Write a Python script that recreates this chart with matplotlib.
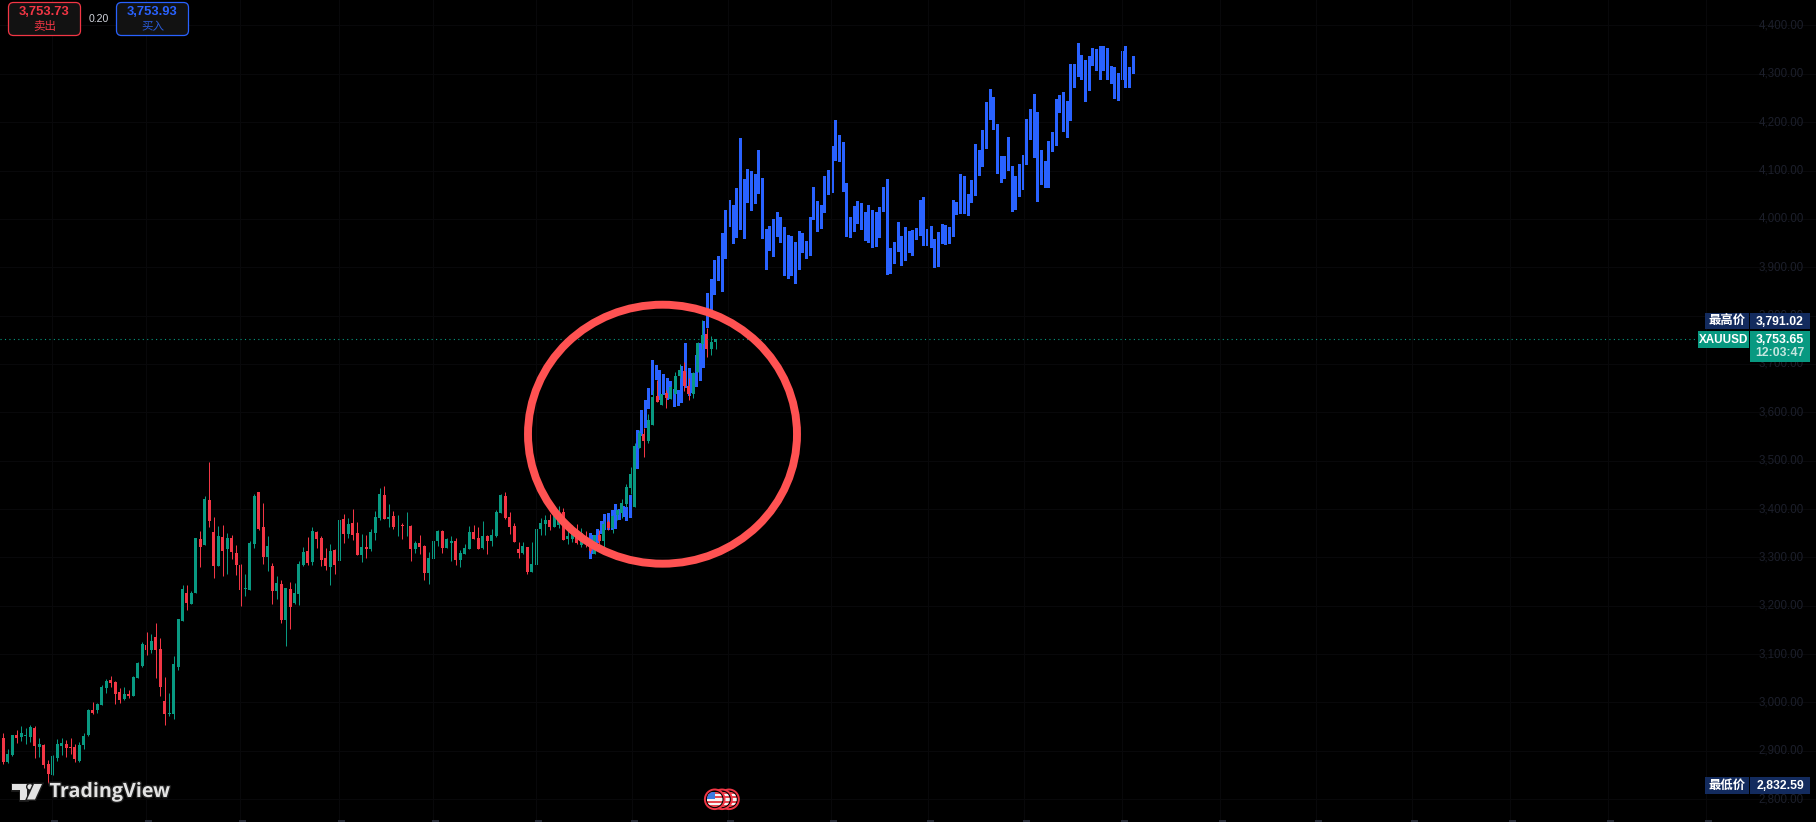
import matplotlib
matplotlib.use('Agg')
import matplotlib.pyplot as plt
from matplotlib.patches import Rectangle, FancyBboxPatch, Ellipse, Circle, Polygon
import matplotlib.patheffects as pe

# candles, oldest first
highs = [2926,2937,2904,2933,2943,2951,2947,2953,2951,2926,
         2914,2881,2891,2924,2926,2922,2926,2914,2918,2937,
         2987,3001,2999,3036,3049,3055,3044,3030,3032,3026,
         3055,3084,3125,3146,3142,3164,3133,3053,3020,3096,
         3173,3243,3243,3231,3340,3355,3427,3497,3384,3365,
         3367,3350,3346,3326,3286,3266,3334,3431,3435,3413,
         3344,3288,3262,3253,3237,3249,3247,3292,3322,3342,
         3363,3355,3344,3319,3328,3317,3380,3390,3381,3400,
         3373,3348,3346,3359,3396,3444,3448,3410,3396,3388,
         3371,3394,3367,3334,3346,3326,3311,3334,3357,3357,
         3340,3344,3340,3315,3328,3365,3367,3363,3375,3346,
         3359,3398,3431,3435,3394,3371,3332,3332,3322,3332,
         3361,3381,3388,3390,3402,3406,3402,3357,3367,3370,
         3360,3355,3339,3346,3357,3375,3377,3387,3401,3420,
         3452,3487,3536,3563,3567,3597,3646,3667,3638,3646,
         3654,3683,3700,3704,3670,3683,3745,3791,3774,3758,3751]
body_tops = [2925,2927,2894,2933,2933,2937,2933,2949,2947,2914,
             2912,2873,2889,2914,2916,2914,2908,2908,2912,2931,
             2985,2985,2997,3032,3044,3047,3042,3022,3018,3018,
             3053,3082,3121,3119,3127,3135,3111,3003,2978,3080,
             3173,3235,3226,3226,3340,3338,3421,3419,3353,3344,
             3342,3340,3340,3309,3284,3237,3330,3427,3435,3363,
             3324,3282,3247,3245,3237,3235,3226,3286,3311,3313,
             3355,3353,3340,3299,3313,3315,3377,3380,3369,3371,
             3350,3322,3322,3353,3384,3431,3429,3384,3386,3367,
             3367,3365,3365,3330,3330,3324,3299,3334,3355,3355,
             3338,3334,3334,3309,3319,3352,3352,3340,3344,3344,
             3346,3394,3429,3427,3384,3365,3317,3324,3322,3286,
             3359,3371,3377,3377,3388,3391,3394,3344,3360,3343,
             3350,3339,3326,3346,3346,3370,3373,3385,3398,3413,
             3446,3472,3530,3558,3556,3584,3632,3634,3638,3641,
             3652,3675,3688,3686,3654,3681,3743,3760,3762,3745,3751]
body_bottoms = [2896,2877,2877,2891,2927,2929,2931,2929,2910,2908,
                2871,2852,2850,2885,2910,2906,2906,2883,2879,2912,
                2933,2978,2985,2995,3030,3040,3018,3005,3007,3013,
                3013,3051,3075,3109,3109,3109,3032,2976,2976,2976,
                3073,3169,3206,3204,3226,3322,3326,3375,3282,3282,
                3313,3317,3311,3284,3233,3235,3233,3328,3359,3301,
                3301,3230,3230,3170,3170,3197,3206,3224,3284,3288,
                3291,3338,3295,3282,3280,3284,3293,3348,3348,3346,
                3305,3305,3318,3318,3350,3381,3380,3380,3363,3366,
                3365,3364,3318,3318,3322,3268,3268,3297,3334,3319,
                3319,3330,3295,3295,3307,3318,3338,3318,3320,3334,
                3334,3344,3392,3381,3363,3332,3309,3309,3270,3270,
                3284,3359,3369,3363,3363,3367,3336,3338,3339,3330,
                3326,3332,3314,3308,3334,3334,3361,3361,3388,3391,
                3410,3443,3405,3526,3541,3541,3574,3621,3615,3630,
                3628,3638,3675,3654,3638,3638,3683,3741,3731,3731,3746]
lows = [2894,2873,2875,2889,2916,2920,2914,2918,2885,2887,
        2865,2833,2850,2879,2891,2887,2893,2877,2877,2904,
        2931,2976,2978,2995,3020,3032,2997,2999,3005,3009,
        3013,3051,3073,3098,3102,3051,3013,2953,2972,2966,
        3067,3169,3191,3204,3226,3280,3326,3363,3257,3282,
        3262,3266,3297,3264,3200,3220,3233,3319,3357,3286,
        3272,3204,3214,3164,3117,3152,3204,3201,3282,3284,
        3284,3319,3282,3274,3243,3266,3293,3330,3340,3336,
        3305,3291,3299,3313,3336,3377,3380,3363,3359,3344,
        3338,3344,3293,3309,3307,3253,3245,3297,3324,3309,
        3319,3293,3284,3280,3307,3318,3338,3318,3318,3307,
        3324,3342,3392,3380,3348,3332,3299,3307,3266,3270,
        3278,3346,3346,3357,3363,3360,3336,3328,3332,3328,
        3321,3322,3310,3308,3322,3322,3357,3350,3377,3381,
        3405,3432,3405,3526,3508,3537,3574,3621,3615,3609,
        3628,3638,3670,3644,3625,3630,3683,3732,3715,3719,3731]
directions = ('GRGGRGGGRG' 'RRGGGRRRGG' 'GRGGGRRRGR' 'GGGRGRRRGG' 'GGRGGRGRRG'
              'RGRRRGGGRR' 'GRGRGRGGGR' 'GRRRGRGRGR' 'RGRGGGRGRG' 'RGRGRRGGGR'
              'GGRGGGRRGR' 'GGGRRRRGRG' 'GGGRGGRGGR' 'GRRGRGRGGG' 'GGGGRGGRGR'
              'GGGRRGGGRGG')

# the projected bars (blue), only high and low
blue_tops = [3350,3346,3359,3375,3390,3392,3398,3410,3401,3406,3404,3429,3488,3563,3605,3625,3650,
             3708,3698,3688,3679,3672,3665,3648,3646,3696,3743,3692,3681,3719,3743,3789,3846,3875,
             3915,3923,3970,4018,4039,4029,4064,4167,4083,4103,4099,4093,4143,4085,3979,3985,4000,
             4014,4004,3983,3967,3965,3952,3975,3971,3954,4004,4066,4037,4029,4089,4101,4151,4204,
             4174,4159,4074,4004,4027,4037,4033,4014,4029,4018,4014,4025,4066,4083,3940,3952,3994,
             3965,3983,3975,3977,3981,4039,4045,3979,3985,3959,3973,
             3989,3987,3983,4039,4035,4093,4089,4052,4081,4155,4143,4184,4242,4269,4252,4196,
             4130,4130,4169,4109,4089,4114,4132,4207,4227,4258,4221,4143,4120,4161,4180,
             4248,4256,4262,4244,4320,4320,4364,4339,4329,4337,4353,4351,4358,4358,4353,4316,
             4314,4302,4347,4358,4314,4337]
blue_bottoms = [3297,3308,3329,3348,3357,3357,3357,3359,3377,3384,3375,3381,3405,3483,3551,3568,3607,
                3636,3667,3625,3636,3625,3630,3611,3613,3619,3650,3634,3639,3652,3665,3692,3774,3812,
                3843,3872,3849,3917,3983,3948,3961,3977,3959,4033,4016,4031,4052,3959,3894,3934,3921,
                3963,3950,3882,3876,3882,3865,3894,3930,3917,3923,3998,3973,3979,4012,4050,4054,4120,
                4118,4056,3963,3961,3973,3990,3977,3954,3950,3940,3942,3961,4014,3884,3886,3907,3932,
                3903,3913,3930,3923,3956,3965,3944,3944,3940,3899,3901,
                3948,3946,3948,3963,4008,4010,4010,4006,4033,4047,4089,4107,4145,4205,4184,4093,
                4074,4083,4099,4014,4018,4045,4060,4112,4163,4126,4035,4070,4064,4064,4138,
                4151,4219,4180,4167,4202,4271,4293,4287,4242,4264,4316,4306,4287,4306,4287,4279,
                4248,4244,4287,4271,4271,4300]

price_ticks = [2800,2900,3000,3100,3200,3300,3400,3500,3600,3700,3800,3900,4000,4100,4200,4300,4400]
last_price = '3,753.65'
high_price = '3,791.02'
low_price = '2,832.59'
countdown = '12:03:47'
sell_price = '3,753.73'
buy_price = '3,753.93'
spread = '0.20'

GREEN = '#089981'
RED = '#f23645'
BLUE = '#2962ff'
NAVY = '#132b5e'
LATIN = ['Liberation Sans', 'Noto Sans CJK SC']
CJK = ['Noto Sans CJK SC', 'DejaVu Sans']

W, H = 1816, 822
fig = plt.figure(figsize=(W/100, H/100), dpi=100, facecolor='black')

# chart axes: one unit in x is one candle, 4.48 px wide
ax = fig.add_axes([0, 0, 1, 1], facecolor='black')
ax.set_xlim(-3.3/4.48, (W-3.3)/4.48)
ax.set_ylim(4400-796.5*2.068, 4400+25.5*2.068)
ax.axis('off')

for p in price_ticks:
    ax.axhline(p, color='#08080a', lw=0.72, zorder=0)
    ax.text((1804-3.3)/4.48, p, f'{p:,.2f}', color='#1c1f2b', fontsize=8.3, ha='right', va='center',
            family=LATIN, zorder=1)

n_blue = len(blue_tops)
blue_x = [(590.3-3.3)/4.48 + j*3.667/4.48 for j in range(n_blue)]
ax.bar(blue_x, [t-b for t, b in zip(blue_tops, blue_bottoms)], bottom=blue_bottoms,
       width=3/4.48, color=BLUE, linewidth=0, zorder=2)

xs = list(range(-1, len(highs)-1))
cols = [GREEN if d == 'G' else RED for d in directions]
ax.vlines(xs, lows, highs, colors=cols, lw=0.72, zorder=3)
ax.bar(xs, [t-b for t, b in zip(body_tops, body_bottoms)], bottom=body_bottoms,
       width=3/4.48, color=cols, linewidth=0, zorder=4)

# overlay in pixels for the labels and drawings
ov = fig.add_axes([0, 0, 1, 1], facecolor='none')
ov.set_xlim(0, W)
ov.set_ylim(H, 0)
ov.axis('off')

# time grid, date labels are cut off by the picture edge
for gx in [52,146,240,339,433,536,632,728,831,928,1024,1122,1220,1316,1412,1510,1608,1706]:
    ov.plot([gx, gx], [0, H], color='#08080a', lw=0.72, zorder=0)
    ov.add_patch(Rectangle((gx-1, 820.4), 7, 2, fc='#262a35', ec='none', zorder=0))

ov.plot([0, 1696], [339.3, 339.3], color=GREEN, lw=0.8, ls=(0, (1, 3)), zorder=1)

ov.add_patch(Ellipse((662.5, 434.2), 269, 259, fill=False, ec='#ff5252', lw=5.7, zorder=2))

# buy and sell buttons
for x0, col, price, word, tcol in [(8.5, RED, sell_price, '卖出', RED), (116.5, BLUE, buy_price, '买入', '#2a5bd8')]:
    ov.add_patch(FancyBboxPatch((x0, 2.5), 72, 33, boxstyle='round,pad=0,rounding_size=5',
                                fc='#121212', ec=col, lw=0.9, zorder=3))
    ov.text(x0+36, 12.3, price, color=col, fontsize=9.4, fontweight='bold', ha='center', va='center',
            family=LATIN, zorder=4)
    ov.text(x0+36, 26.5, word, color=tcol, fontsize=8.3, ha='center', va='center', family=CJK, zorder=4)
ov.text(99, 18.5, spread, color='#d1d4dc', fontsize=7.6, ha='center', va='center', family=LATIN, zorder=4)

# labels on the price scale
def box(x0, y0, x1, y1, col):
    ov.add_patch(Rectangle((x0, y0), x1-x0, y1-y0, fc=col, ec='none', zorder=5))

box(1705, 313.3, 1749, 329.3, NAVY)
box(1750, 313.3, 1810, 329.3, NAVY)
ov.text(1727, 321.3, '最高价', color='white', fontsize=8.9, fontweight='bold', ha='center', va='center',
        family=CJK, zorder=6)
ov.text(1804, 321.5, high_price, color='white', fontsize=8.8, fontweight='bold', ha='right', va='center',
        family=LATIN, zorder=6)
box(1698, 331, 1749, 347.7, GREEN)
box(1750, 331, 1810, 361.7, GREEN)
ov.text(1723.5, 339.6, 'XAUUSD', color='white', fontsize=8.4, fontweight='bold', ha='center', va='center',
        family=LATIN, zorder=6)
ov.text(1804, 339.6, last_price, color='white', fontsize=8.8, fontweight='bold', ha='right', va='center',
        family=LATIN, zorder=6)
ov.text(1804, 352.8, countdown, color='#c4e6df', fontsize=8.8, fontweight='bold', ha='right', va='center',
        family=LATIN, zorder=6)
box(1705, 777.3, 1749, 793.7, NAVY)
box(1750, 777.3, 1810, 793.7, NAVY)
ov.text(1727, 785.3, '最低价', color='white', fontsize=8.9, fontweight='bold', ha='center', va='center',
        family=CJK, zorder=6)
ov.text(1804, 785.5, low_price, color='white', fontsize=8.8, fontweight='bold', ha='right', va='center',
        family=LATIN, zorder=6)

# TradingView logo
LOGO = '#e3e3e3'
halo = [pe.withStroke(linewidth=2, foreground='#1e1e1e')]
logo_parts = [
    Polygon([(12, 784), (27, 784), (27, 799.5), (20, 799.5), (20, 790), (12, 790)], fc=LOGO, ec='none', zorder=7),
    Circle((30, 786.8), 2.6, fc=LOGO, ec='none', zorder=7),
    Polygon([(34, 784), (42, 784), (35, 799.5), (27, 799.5)], fc=LOGO, ec='none', zorder=7),
]
for part in logo_parts:
    part.set_path_effects(halo)
    ov.add_patch(part)
ov.text(49.5, 792, 'TradingView', color=LOGO, fontsize=14.2, fontweight='bold', ha='left', va='center',
        family=['Open Sans'], zorder=7, path_effects=halo)

# event flags, the front one last
for n, cx in enumerate([729, 722, 714.7]):
    z = 8 + n*3
    ov.add_patch(Circle((cx, 799.3), 9.8, fc='black', ec=RED, lw=1.4, zorder=z))
    clip = Circle((cx, 799.3), 7.8, transform=ov.transData)
    for k in range(7):
        stripe = Rectangle((cx-8, 791.5+k*2.3), 16, 2.3, fc='#e8474f' if k % 2 == 0 else '#f5f5f5', ec='none', zorder=z+1)
        ov.add_patch(stripe)
        stripe.set_clip_path(clip)
    canton = Rectangle((cx-8, 791.5), 8, 7, fc='#3d7be0', ec='none', zorder=z+2)
    ov.add_patch(canton)
    canton.set_clip_path(clip)

fig.savefig('out.png', dpi=100, facecolor='black')
